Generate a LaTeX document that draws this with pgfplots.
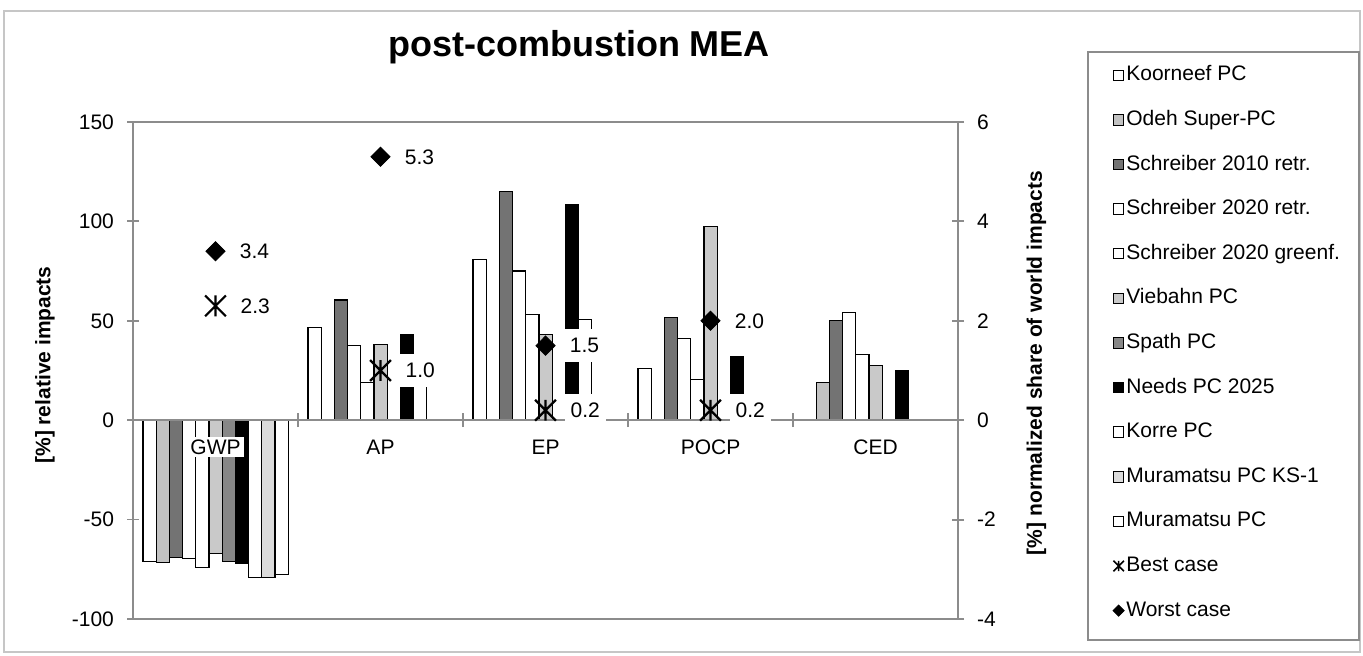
\documentclass[border=0pt]{standalone}
\usepackage{fontspec}
\setmainfont{Liberation Sans}
\usepackage{pgfplots}
\pgfplotsset{compat=1.18}

\definecolor{axgray}{gray}{0.55}
\definecolor{cOdeh}{gray}{0.76}
\definecolor{cSchr}{gray}{0.45}
\definecolor{cVieb}{gray}{0.79}
\definecolor{cSpath}{gray}{0.53}
\definecolor{cMura}{gray}{0.86}
\newcommand{\tf}{\fontsize{10.5}{12.6}\selectfont}

% Excel-like star: an X with a vertical stroke
\pgfdeclareplotmark{xstar}{%
  \pgfpathmoveto{\pgfqpoint{-\pgfplotmarksize}{-\pgfplotmarksize}}%
  \pgfpathlineto{\pgfqpoint{\pgfplotmarksize}{\pgfplotmarksize}}%
  \pgfpathmoveto{\pgfqpoint{-\pgfplotmarksize}{\pgfplotmarksize}}%
  \pgfpathlineto{\pgfqpoint{\pgfplotmarksize}{-\pgfplotmarksize}}%
  \pgfpathmoveto{\pgfqpoint{0pt}{-\pgfplotmarksize}}%
  \pgfpathlineto{\pgfqpoint{0pt}{\pgfplotmarksize}}%
  \pgfusepathqstroke}

\pgfplotsset{
  panel/.style={at={(66.5pt,-61pt)}, anchor=north west, scale only axis,
    width=412.5pt, height=248.5pt, xmin=-0.5, xmax=4.5},
  serie/.style={ybar, bar width=0.08, bar shift=#1, draw=black, line width=0.6pt},
  barleg/.style={legend image code/.code={\draw[##1,draw=black,line width=0.5pt] (0pt,-2.6pt) rectangle (5.2pt,2.6pt);}},
  markleg/.style={legend image code/.code={\draw[mark repeat=2,mark phase=2,##1] plot coordinates {(0pt,0pt) (2.6pt,0pt) (5.2pt,0pt)};}},
}

\begin{document}
\begin{tikzpicture}
\useasboundingbox (0,0) rectangle (681.5pt,-328pt);
\draw[gray!45, line width=1pt] (2pt,-5.5pt) rectangle (680pt,-326pt);
\draw[axgray, line width=0.8pt] (544pt,-26pt) rectangle (679.5pt,-320pt);
\node[anchor=base, font=\fontsize{18}{21}\selectfont\bfseries] at (289.5pt,-28.5pt) {post-combustion MEA};

% left axis: bars
\begin{axis}[panel,
  ymin=-100, ymax=150, ytick={-100,-50,...,150}, ytick pos=left, xtick=\empty,
  axis line style={axgray, line width=0.9pt},
  y tick style={axgray, line width=0.9pt}, major tick length=6pt, tick align=center,
  yticklabel style={font=\tf, xshift=-3pt},
  /pgf/number format/assume math mode=true,
  ylabel={\bfseries [\%] relative impacts},
  ylabel style={at={(axis description cs:-0.1067,0.511)}, anchor=center, font=\tf},
]
\addplot[serie=-0.40, fill=white]  coordinates {(0,-71) (1,46.5) (2,81) (3,26)};
\addplot[serie=-0.32, fill=cOdeh]  coordinates {(0,-71.5) (4,19)};
\addplot[serie=-0.24, fill=cSchr]  coordinates {(0,-69) (1,60.5) (2,115) (3,51.5) (4,50)};
\addplot[serie=-0.16, fill=white]  coordinates {(0,-69.5) (1,37.5) (2,75) (3,41) (4,54)};
\addplot[serie=-0.08, fill=white]  coordinates {(0,-74) (1,19) (2,53) (3,20.5) (4,33)};
\addplot[serie=0,     fill=cVieb]  coordinates {(0,-67) (1,38) (2,43) (3,97.5) (4,27.5)};
\addplot[serie=0.08,  fill=cSpath] coordinates {(0,-71)};
\addplot[serie=0.16,  fill=black]  coordinates {(0,-72) (1,43) (2,108.5) (3,32) (4,25)};
\addplot[serie=0.24,  fill=white]  coordinates {(0,-79) (1,30) (2,50.5)};
\addplot[serie=0.32,  fill=cMura]  coordinates {(0,-79)};
\addplot[serie=0.40,  fill=white]  coordinates {(0,-77.5)};
\end{axis}

% category axis at zero
\begin{axis}[panel, ymin=-100, ymax=150,
  axis x line=middle, axis y line=none,
  x axis line style={-, axgray, line width=0.9pt},
  xtick={0.5,1.5,2.5,3.5}, xticklabels={},
  x tick style={axgray, line width=0.9pt}, major tick length=7pt, tick align=center,
  extra x ticks={0,1,2,3,4}, extra x tick labels={GWP,AP,EP,POCP,CED},
  extra x tick style={major tick length=0pt,
    xticklabel style={fill=white, inner sep=1.5pt, font=\tf, yshift=-8pt}},
]
\end{axis}

% right axis: best / worst case
\begin{axis}[panel, ymin=-4, ymax=6, ytick={-4,-2,...,6},
  axis y line*=right, axis x line=none,
  y axis line style={-, axgray, line width=0.9pt},
  y tick style={axgray, line width=0.9pt}, major tick length=6pt, tick align=center,
  yticklabel style={font=\tf, xshift=3pt},
  /pgf/number format/assume math mode=true,
  ylabel={\bfseries [\%] normalized share of world impacts},
  ylabel style={at={(axis description cs:1.095,0.515)}, anchor=center, font=\tf},
  legend style={at={(axis description cs:1.1873,1.1177)}, anchor=north west,
    draw=none, fill=none, font=\tf, row sep=10.8pt, column sep=0pt, inner sep=0pt,
    nodes={inner sep=1pt, text height=7.5pt, text depth=2pt}},
  legend cell align=left,
  nodes near coords={\pgfmathprintnumber[fixed,fixed zerofill,precision=1]{\pgfplotspointmeta}},
  every node near coord/.append style={anchor=west, xshift=9pt, fill=white,
    inner xsep=3pt, inner ysep=4.5pt, font=\tf},
]
\addlegendimage{barleg, fill=white}
\addlegendimage{barleg, fill=cOdeh}
\addlegendimage{barleg, fill=cSchr}
\addlegendimage{barleg, fill=white}
\addlegendimage{barleg, fill=white}
\addlegendimage{barleg, fill=cVieb}
\addlegendimage{barleg, fill=cSpath}
\addlegendimage{barleg, fill=black}
\addlegendimage{barleg, fill=white}
\addlegendimage{barleg, fill=cMura}
\addlegendimage{barleg, fill=white}
\addplot[only marks, mark=xstar, mark size=5.2pt, line width=1.1pt, black, markleg,
  legend image post style={mark size=2.6pt, line width=0.8pt}]
  coordinates {(0,2.3) (1,1.0) (2,0.2) (3,0.2)};
\addplot[only marks, mark=diamond*, mark size=4.8pt, black, markleg,
  mark options={xscale=1.33},
  legend image post style={mark size=2.8pt}]
  coordinates {(0,3.4) (1,5.3) (2,1.5) (3,2.0)};
\legend{Koorneef PC,Odeh Super-PC,Schreiber 2010 retr.,Schreiber 2020 retr.,
  Schreiber 2020 greenf.,Viebahn PC,Spath PC,Needs PC 2025,Korre PC,
  Muramatsu PC KS-1,Muramatsu PC,Best case,Worst case}
\end{axis}
\end{tikzpicture}
\end{document}
